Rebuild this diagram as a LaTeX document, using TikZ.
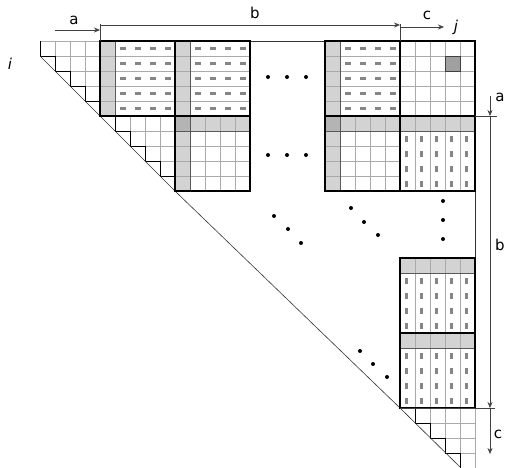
\documentclass[tikz,border=0pt]{standalone}
\usepackage{fontspec}
\setmainfont{DejaVu Sans}
\usetikzlibrary{arrows.meta}
\definecolor{lgr}{HTML}{D3D3D3}
\definecolor{mgr}{HTML}{B4B4B4}
\definecolor{dgr}{HTML}{A0A0A0}
\definecolor{gridc}{HTML}{AAAAAA}
\definecolor{markc}{HTML}{858585}
\definecolor{dimc}{HTML}{404040}
\tikzset{
  gridl/.style={draw=gridc, line width=0.5pt},
  midl/.style={draw=gray!70!black, line width=0.9pt},
  outl/.style={draw=black, line width=1.5pt},
  stair/.style={draw=black, line width=0.8pt},
  diag/.style={draw=black!80, line width=0.6pt},
  dim/.style={draw=dimc, line width=0.6pt, -{Stealth[length=6pt,width=5pt]}},
  tick/.style={draw=dimc, line width=0.6pt},
  lbl/.style={font=\fontsize{15}{17}\selectfont, inner sep=0pt},
  dotm/.style={fill=black},
}
% block with gray column and horizontal dashes
\newcommand\BlkA[2]{%
  \fill[lgr] (#1,#2) rectangle ({#1+15},{#2+75});
  \foreach \r in {1,...,4} \draw[gridl] (#1,{#2+15*\r}) -- ({#1+75},{#2+15*\r});
  \draw[midl] ({#1+15},#2) -- ({#1+15},{#2+75});
  \foreach \r in {0,...,4} \foreach \c in {0,...,3}
    \fill[markc] ({#1+15+15*\c+4.5},{#2+15*\r+6.3}) rectangle ++(6,2.8);
  \draw[outl] (#1,#2) rectangle ({#1+75},{#2+75});
}
% block with gray row and gray column
\newcommand\BlkB[2]{%
  \fill[lgr] (#1,#2) rectangle ({#1+75},{#2+15});
  \fill[lgr] (#1,#2) rectangle ({#1+15},{#2+75});
  \fill[mgr] (#1,#2) rectangle ({#1+15},{#2+15});
  \foreach \k in {1,...,4} {
    \draw[gridl] (#1,{#2+15*\k}) -- ({#1+75},{#2+15*\k});
    \draw[gridl] ({#1+15*\k},#2) -- ({#1+15*\k},{#2+75});
  }
  \draw[midl] (#1,{#2+15}) -- ({#1+75},{#2+15});
  \draw[midl] ({#1+15},#2) -- ({#1+15},{#2+75});
  \draw[outl] (#1,#2) rectangle ({#1+75},{#2+75});
}
% block with gray row and vertical dashes
\newcommand\BlkD[2]{%
  \fill[lgr] (#1,#2) rectangle ({#1+75},{#2+15});
  \foreach \k in {1,...,4} \draw[gridl] ({#1+15*\k},#2) -- ({#1+15*\k},{#2+75});
  \draw[midl] (#1,{#2+15}) -- ({#1+75},{#2+15});
  \foreach \r in {0,...,3} \foreach \c in {0,...,4}
    \fill[markc] ({#1+15*\c+5.3},{#2+15+15*\r+4.5}) rectangle ++(2.8,6);
  \draw[outl] (#1,#2) rectangle ({#1+75},{#2+75});
}
% triangular staircase of 4 rows
\newcommand\Tri[2]{%
  \foreach \r in {0,...,3} {
    \pgfmathtruncatemacro\cmax{3-\r}
    \foreach \c in {0,...,\cmax}
      \draw[gridl] ({#1+15*\r+15*\c},{#2+15*\r}) rectangle ++(15,15);
  }
  \draw[stair] (#1,#2) -- (#1,{#2+15}) -- ({#1+15},{#2+15}) -- ({#1+15},{#2+30})
    -- ({#1+30},{#2+30}) -- ({#1+30},{#2+45}) -- ({#1+45},{#2+45}) -- ({#1+45},{#2+60})
    -- ({#1+60},{#2+60}) -- ({#1+60},{#2+75});
}
\begin{document}
\begin{tikzpicture}[x=1pt,y=-1pt]
\useasboundingbox (0,0) rectangle (505,467);
% outer frame lines
\draw[diag] (40,41) -- (475,41) -- (475,467);
% triangles
\Tri{40}{41}
\Tri{115}{116}
\Tri{415}{408}
% diagonal
\draw[diag] (40,56) -- (175,191) -- (400,408) -- (460,467);
% row 0
\BlkA{100}{41}
\BlkA{175}{41}
\BlkA{325}{41}
% top-right block
\foreach \k in {1,...,4} {
  \draw[gridl] (400,{41+15*\k}) -- (475,{41+15*\k});
  \draw[gridl] ({400+15*\k},41) -- ({400+15*\k},116);
}
\draw[fill=dgr, draw=black!75, line width=0.8pt] (445,56) rectangle (460,71);
\draw[outl] (400,41) rectangle (475,116);
% row 1
\BlkB{175}{116}
\BlkB{325}{116}
\BlkD{400}{116}
% lower right column
\BlkD{400}{258}
\BlkD{400}{333}
% dots
\foreach \x/\y [count=\n] in {268/77,287/77,306/77,268/155,287/155,306/155,
    274/216,288/229,301/243,351/208,364/222,378/235,
    443/201,443/220,443/239,360/351,373/364,387/377}
  \fill[dotm] (\x,\y) circle (2);
% dimension lines
\coordinate (ta0) at (55,30);  \coordinate (ta1) at (100,30);
\coordinate (tb0) at (100,25); \coordinate (tb1) at (400,25);
\coordinate (tc0) at (400,27); \coordinate (tc1) at (444,27);
\coordinate (ra0) at (490,96); \coordinate (ra1) at (490,116);
\coordinate (rb0) at (490,116); \coordinate (rb1) at (490,408);
\coordinate (rc0) at (490,408); \coordinate (rc1) at (490,454);
\draw[tick] (100,24) -- (100,41);
\draw[tick] (400,24) -- (400,41);
\draw[tick] (475,116) -- (497,116);
\draw[tick] (400,408) -- (495,408);
\draw[dim] (ta0) -- (ta1);
\draw[dim] (tb0) -- (tb1);
\draw[dim] (tc0) -- (tc1);
\draw[dim] (ra0) -- (ra1);
\draw[dim] (rb0) -- (rb1);
\draw[dim] (rc0) -- (rc1);
% labels
\node[lbl] (la) at (74,20) {a};
\node[lbl] (lb) at (255,13) {b};
\node[lbl] (lc) at (427,15) {c};
\node[lbl] (lj) at (456,27) {\itshape j};
\node[lbl] (li) at (10,64) {\itshape i};
\node[lbl] (ra) at (500,97) {a};
\node[lbl] (rb) at (500,245) {b};
\node[lbl] (rc) at (498,434) {c};
\end{tikzpicture}
\end{document}
